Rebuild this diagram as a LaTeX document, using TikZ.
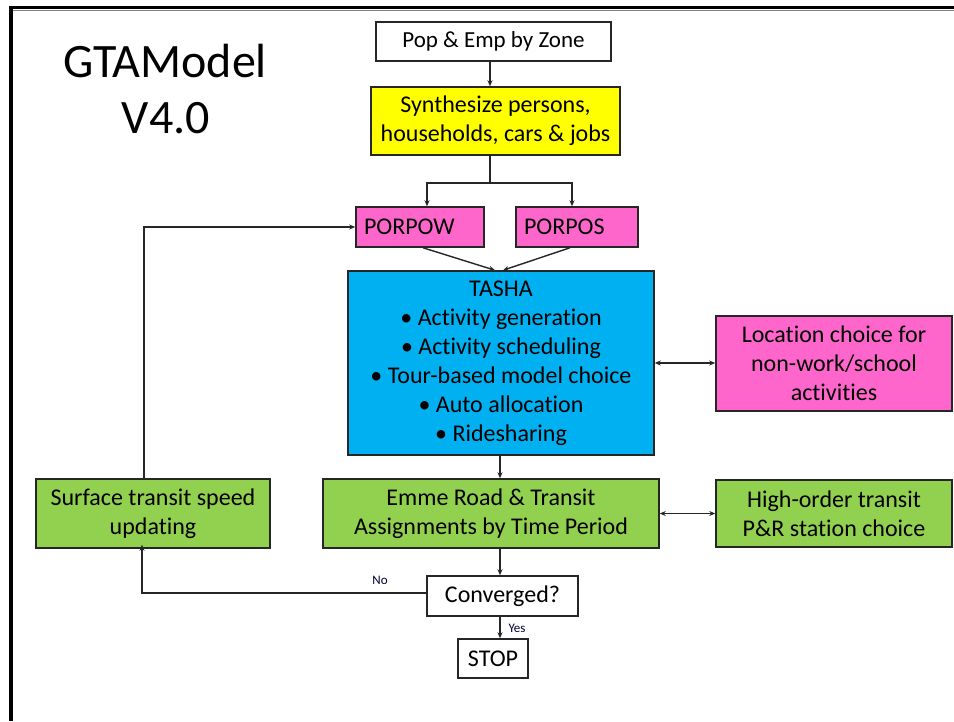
\documentclass[tikz,border=0pt]{standalone}
\usepackage{fontspec}
\setmainfont{Carlito}[Ligatures={NoCommon}]
\usetikzlibrary{arrows.meta}
\definecolor{pinkbox}{HTML}{FF66CC}
\definecolor{bluebox}{HTML}{00B0F0}
\definecolor{greenbox}{HTML}{92D050}
\definecolor{yellowbox}{HTML}{FFFF00}
\begin{document}
\begin{tikzpicture}[x=1pt,y=-1pt,
  box/.style={draw=black!85,line width=1.5pt,inner sep=2pt,align=center,
    font=\fontsize{24}{29}\selectfont},
  arr/.style={draw=black!85,line width=1.4pt,-{Stealth[length=6pt,width=5pt]}},
  darr/.style={draw=black!85,line width=1.4pt,{Stealth[length=6pt,width=5pt]}-{Stealth[length=6pt,width=5pt]}},
  lab/.style={font=\fontsize{13}{15}\selectfont,text=black!80!blue},
  title/.style={font=\fontsize{48}{56}\selectfont,anchor=base}]
\useasboundingbox (0,0) rectangle (954,721);
% frame
\draw[line width=3.5pt] (9,7.5) -- (954,7.5);
\draw[gray,line width=1pt] (13,10) -- (954,10);
\draw[line width=4pt] (11,6) -- (11,721);
% title
\node[title] (t1) at (165,77) {GTAModel};
\node[title] (t2) at (166,133) {V4.0};
% boxes
\node[box,fill=white,minimum width=235,minimum height=39,font=\fontsize{23}{28}\selectfont] (pop) at (493.5,41.5) {Pop \& Emp by Zone};
\node[box,fill=yellowbox,minimum width=249,minimum height=68] (syn) at (495.5,121) {Synthesize persons,\\households, cars \& jobs};
\node[box,fill=pinkbox,minimum height=40,text width=112,inner xsep=8pt,align=left] (porpow) at (420,227) {PORPOW};
\node[box,fill=pinkbox,minimum height=40,text width=106,inner xsep=8pt,align=left] (porpos) at (577,227) {PORPOS};
\node[box,fill=bluebox,minimum width=306,minimum height=184] (tasha) at (501,363) {TASHA\\\textbullet{} Activity generation\\\textbullet{} Activity scheduling\\\textbullet{} Tour-based model choice\\\textbullet{} Auto allocation\\\textbullet{} Ridesharing};
\node[box,fill=pinkbox,minimum width=236,minimum height=95] (loc) at (834,363.5) {Location choice for\\non-work/school\\activities};
\node[box,fill=greenbox,minimum width=336,minimum height=69] (emme) at (491,513.5) {Emme Road \& Transit\\Assignments by Time Period};
\node[box,fill=greenbox,minimum width=236,minimum height=67] (hot) at (834,513.5) {High-order transit\\P\&R station choice};
\node[box,fill=greenbox,minimum width=234,minimum height=69] (surf) at (153,513.5) {Surface transit speed\\updating};
\node[box,fill=white,minimum width=151,minimum height=40] (conv) at (502.5,596) {Converged?};
\node[box,fill=white,minimum width=70,minimum height=39] (stop) at (493,658.5) {STOP};
% helper coordinates
\coordinate (cx) at (490,0);
\coordinate (cy) at (500,0);
\coordinate (split) at (490,183);
% connectors
\draw[arr] (pop.south -| cx) -- (syn.north -| cx);
\draw[draw=black!85,line width=1.4pt] (syn.south -| cx) -- (split);
\draw[arr] (split) -| ([xshift=7]porpow.north);
\draw[arr] (split) -| ([xshift=-5]porpos.north);
\draw[arr] ([xshift=3]porpow.south) -- ([xshift=-6]tasha.north);
\draw[arr] ([xshift=-7]porpos.south) -- ([xshift=2]tasha.north);
\draw[darr] (tasha.east) -- (tasha.east -| loc.west);
\draw[arr] (tasha.south -| cy) -- (emme.north -| cy);
\draw[darr] (emme.east) -- (emme.east -| hot.west);
\draw[arr] (emme.south -| cy) -- (conv.north -| cy);
\draw[arr] (conv.south -| cy) -- (stop.north -| cy);
\draw[arr] ([yshift=3]conv.west) -| ([xshift=-11,yshift=4]surf.south);
\draw[arr] ([xshift=-9]surf.north) |- (porpow.west);
% labels
\node[lab] (no) at (380,580) {No};
\node[lab] (yes) at (517,628) {Yes};
\end{tikzpicture}
\end{document}
